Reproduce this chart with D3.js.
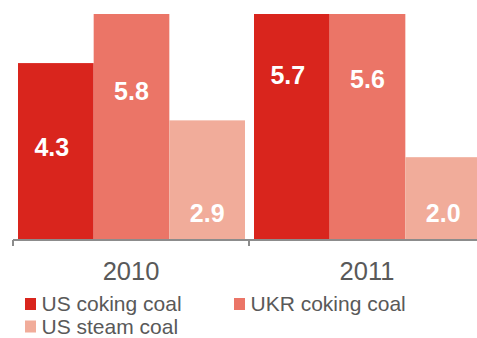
<!DOCTYPE html>
<html><head><meta charset="utf-8">
<script src="https://cdn.jsdelivr.net/npm/d3@7/dist/d3.min.js"></script>
<style>body{margin:0;background:#fff}svg{display:block}text{font-family:"Liberation Sans",Arial,sans-serif}</style>
</head><body>
<script>
const years = ["2010", "2011"];
const seriesNames = ["US coking coal", "UKR coking coal", "US steam coal"];
const usCoking = [4.3, 5.7];
const ukrCoking = [5.8, 5.6];
const usSteam = [2.9, 2.0];
// where each value label sits, in data units
const usCokingLabelAt = [2.04, 3.80];
const ukrCokingLabelAt = [3.40, 3.70];
const usSteamLabelAt = [0.42, 0.42];
const yMax = 5.5;

const colors = ["#D9251D", "#EB7567", "#F1AC9A"];
const values = [usCoking, ukrCoking, usSteam];
const labelAt = [usCokingLabelAt, ukrCokingLabelAt, usSteamLabelAt];

const W = 477, H = 338;
const svg = d3.select("body").append("svg").attr("width", W).attr("height", H);

const x = d3.scaleBand().domain(years).range([13, 485]).paddingInner(0).paddingOuter(0);
const xi = d3.scaleBand().domain(d3.range(seriesNames.length)).range([5, 232]);
const y = d3.scaleLinear().domain([0, yMax]).range([239, 14]).clamp(true);

const data = [];
years.forEach((yr, i) => {
  seriesNames.forEach((s, j) => {
    data.push({yr, j, v: values[j][i], la: labelAt[j][i]});
  });
});

svg.append("g").selectAll("rect").data(data).join("rect")
  .attr("x", d => x(d.yr) + xi(d.j))
  .attr("width", xi.bandwidth())
  .attr("y", d => y(d.v))
  .attr("height", d => y(0) - y(d.v))
  .attr("fill", d => colors[d.j]);

svg.append("g").selectAll("text").data(data).join("text")
  .attr("x", d => x(d.yr) + xi(d.j) + xi.bandwidth() / 2 + (d.j === 0 ? -4 : 0))
  .attr("y", d => y(d.la))
  .attr("text-anchor", "middle")
  .attr("fill", "#fff")
  .attr("font-weight", "bold")
  .attr("font-size", 25)
  .text(d => d.v.toFixed(1));

// axis
const ax = svg.append("g").attr("transform", "translate(0,240)");
ax.append("line").attr("x1", 13).attr("x2", W).attr("y1", 0).attr("y2", 0)
  .attr("stroke", "#8C8C8C").attr("stroke-width", 2);
ax.selectAll("line.tick").data(years).join("line").attr("class", "tick")
  .attr("x1", d => x(d)).attr("x2", d => x(d)).attr("y1", 0).attr("y2", 6)
  .attr("stroke", "#8C8C8C").attr("stroke-width", 2);
ax.selectAll("text").data(years).join("text")
  .attr("x", d => x(d) + x.bandwidth() / 2)
  .attr("y", 40)
  .attr("text-anchor", "middle")
  .attr("fill", "#595959")
  .attr("font-size", 25.5)
  .text(d => d);

// legend
const legPos = [[25, 298], [234, 298], [25, 320.5]];
const lg = svg.append("g").selectAll("g").data(seriesNames).join("g")
  .attr("transform", (d, i) => `translate(${legPos[i][0]},${legPos[i][1]})`);
lg.append("rect").attr("width", 11).attr("height", 12).attr("fill", (d, i) => colors[i]);
lg.append("text").attr("x", 16.5).attr("y", 13).attr("fill", "#595959").attr("font-size", 21).text(d => d);
</script>
</body></html>
